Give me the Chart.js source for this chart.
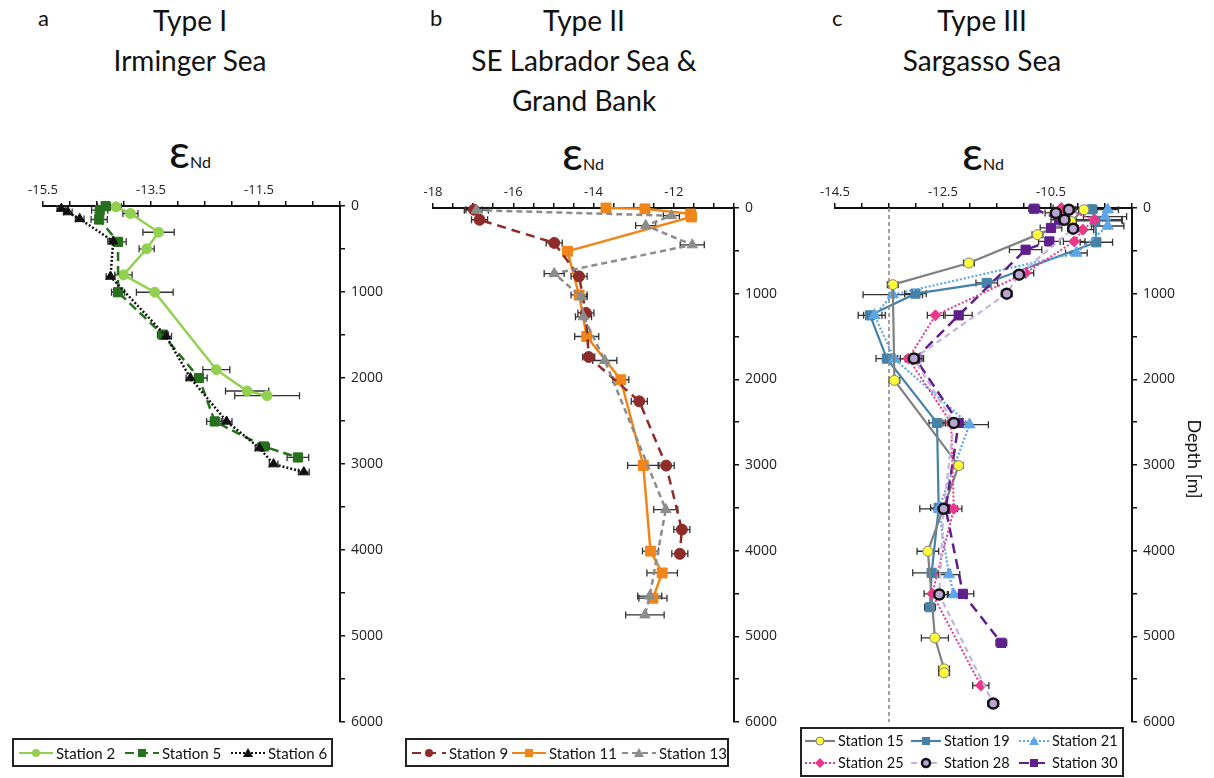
<!DOCTYPE html>
<html>
<head>
<meta charset="utf-8">
<script src="https://cdn.jsdelivr.net/npm/chart.js@4.4.1/dist/chart.umd.min.js"></script>
<style>
  body { margin: 0; background: #fff; font-family: 'Lato', 'Open Sans', sans-serif; color: #111; }
  #page { position: relative; width: 1214px; height: 778px; overflow: hidden; }
  .cv { position: absolute; }
  .txt { position: absolute; white-space: nowrap; }
  .letter { font-size: 22px; }
  .title { font-size: 28px; text-align: center; width: 300px; line-height: 40px; }
  .eps { font-size: 46px; width: 120px; text-align: center; line-height: 46px; }
  .eps sub { font-size: 16px; vertical-align: baseline; position: relative; top: 0; }
  .legend { position: absolute; border: 2px solid #222; box-sizing: border-box; font-size: 15px; font-family: 'Lato', sans-serif; }
  .legend .item { position: absolute; display: flex; align-items: center; white-space: nowrap; }
  .legend svg { margin-right: 2px; }
  #legC { font-size: 14.5px; }
  #depthLbl { position: absolute; left: 1150px; top: 448px; width: 90px; text-align: center; font-size: 18px; transform: rotate(90deg); }
</style>
</head>
<body>
<div id="page">
  <div class="txt letter" style="left:38px;top:4px;">a</div>
  <div class="txt title" style="left:40px;top:0px;">Type I<br>Irminger Sea</div>
  <div class="txt eps" style="left:130px;top:128px;">ε<sub>Nd</sub></div>

  <div class="txt letter" style="left:430px;top:4px;">b</div>
  <div class="txt title" style="left:434px;top:0px;">Type II<br>SE Labrador Sea &amp;<br>Grand Bank</div>
  <div class="txt eps" style="left:523px;top:130px;">ε<sub>Nd</sub></div>

  <div class="txt letter" style="left:832px;top:4px;">c</div>
  <div class="txt title" style="left:832px;top:0px;">Type III<br>Sargasso Sea</div>
  <div class="txt eps" style="left:923px;top:130px;">ε<sub>Nd</sub></div>

  <canvas id="chartA" class="cv" style="left:0px;top:160px;" width="400" height="580"></canvas>
  <canvas id="chartB" class="cv" style="left:390px;top:160px;" width="400" height="580"></canvas>
  <canvas id="chartC" class="cv" style="left:790px;top:160px;" width="424" height="580"></canvas>

  <div id="depthLbl">Depth [m]</div>

  <div class="legend" id="legA" style="left:12px;top:738px;width:321px;height:29px;"></div>
  <div class="legend" id="legB" style="left:405px;top:738px;width:324px;height:29px;"></div>
  <div class="legend" id="legC" style="left:800px;top:727px;width:324px;height:50px;"></div>
</div>

<script>
// ---- data ----
// Panel a: Irminger Sea
const st2Eps   = [-14.15, -13.88, -13.36, -13.58, -14.01, -13.43, -12.29, -11.72, -11.35];
const st2Depth = [10, 87, 305, 498, 801, 1003, 1903, 2151, 2206];
const st2Err   = [0.1, 0.14, 0.29, 0.14, 0.16, 0.34, 0.25, 0.4, 0.6];

const st5Eps   = [-14.34, -14.45, -14.46, -14.11, -14.11, -13.28, -12.61, -12.32, -11.41, -10.78];
const st5Depth = [2, 49, 157, 417, 1003, 1496, 2000, 2505, 2796, 2924];
const st5Err   = [0.15, 0.15, 0.15, 0.15, 0.12, 0.1, 0.15, 0.15, 0.1, 0.2];

const st6Eps   = [-15.16, -15.04, -14.82, -14.2, -14.25, -13.22, -12.77, -12.1, -11.49, -11.23, -10.67];
const st6Depth = [30, 70, 150, 410, 820, 1515, 2000, 2505, 2815, 3001, 3094];
const st6Err   = [0.08, 0.08, 0.08, 0.1, 0.08, 0.1, 0.08, 0.1, 0.08, 0.08, 0.1];

// Panel b: SE Labrador Sea & Grand Bank
const st9Eps   = [-16.98, -16.84, -14.98, -14.36, -14.19, -14.12, -12.86, -12.19, -11.8, -11.85];
const st9Depth = [20, 137, 408, 798, 1225, 1739, 2257, 3007, 3754, 4037];
const st9Err   = [0.2, 0.2, 0.2, 0.2, 0.2, 0.15, 0.2, 0.2, 0.2, 0.2];

const st11Eps   = [-13.69, -12.72, -11.58, -11.56, -14.65, -14.36, -14.17, -13.32, -12.76, -12.58, -12.29, -12.52];
const st11Depth = [0, 10, 70, 105, 505, 1015, 1500, 2005, 3005, 4005, 4260, 4555];
const st11Err   = [0.1, 0.1, 0.1, 0.1, 0.1, 0.2, 0.3, 0.2, 0.39, 0.2, 0.38, 0.35];

const st13Eps   = [-16.92, -12.06, -12.7, -11.54, -14.98, -14.31, -14.25, -13.72, -12.2, -12.6, -12.72];
const st13Depth = [25, 90, 205, 430, 765, 1035, 1270, 1780, 3520, 4530, 4750];
const st13Err   = [0.3, 0.2, 0.25, 0.3, 0.25, 0.15, 0.2, 0.3, 0.3, 0.3, 0.48];

// Panel c: Sargasso Sea
const st15Eps   = [-9.89, -10.13, -10.75, -12.02, -13.43, -13.4, -12.21, -12.78, -12.65, -12.48, -12.48];
const st15Depth = [20, 156, 311, 642, 895, 2012, 3007, 4007, 5018, 5380, 5426];
const st15Err   = [0.1, 0.1, 0.1, 0.1, 0.1, 0.1, 0.08, 0.2, 0.25, 0.1, 0.1];

const st19Eps   = [-9.74, -9.68, -9.66, -11.69, -13.01, -13.85, -13.54, -12.61, -12.58, -12.71, -12.74];
const st19Depth = [15, 150, 400, 875, 1000, 1253, 1758, 2509, 3500, 4259, 4660];
const st19Err   = [0.3, 0.5, 0.3, 0.2, 0.2, 0.22, 0.2, 0.15, 0.15, 0.35, 0.1];

const st21Eps   = [-9.45, -9.5, -9.45, -10.03, -13.43, -13.77, -13.4, -12.01, -12.58, -12.39, -12.3];
const st21Depth = [20, 100, 210, 525, 1012, 1253, 1762, 2529, 3512, 4279, 4512];
const st21Err   = [0.2, 0.4, 0.3, 0.2, 0.55, 0.2, 0.2, 0.35, 0.35, 0.2, 0.1];

const st25Eps   = [-10.31, -9.69, -9.91, -10.07, -10.97, -12.64, -13.14, -12.35, -12.3, -12.7, -11.8];
const st25Depth = [0, 137, 253, 390, 759, 1253, 1758, 2509, 3512, 4504, 5574];
const st25Err   = [0.15, 0.5, 0.2, 0.2, 0.15, 0.15, 0.15, 0.15, 0.15, 0.15, 0.15];

const st28Eps   = [-10.17, -10.41, -10.25, -10.09, -11.09, -11.32, -13.04, -12.3, -12.49, -12.57, -11.57];
const st28Depth = [20, 58, 137, 241, 778, 1000, 1758, 2509, 3512, 4512, 5784];
const st28Err   = [0.1, 0.2, 0.1, 0.1, 0.1, 0.1, 0.15, 0.15, 0.1, 0.15, 0.1];

const st30Eps   = [-10.81, -10.35, -10.5, -10.53, -10.97, -12.21, -13.01, -12.21, -12.45, -12.13, -11.42];
const st30Depth = [8, 137, 233, 390, 487, 1253, 1758, 2509, 3512, 4504, 5076];
const st30Err   = [0.1, 0.15, 0.2, 0.2, 0.3, 0.25, 0.15, 0.2, 0.15, 0.2, 0.1];

const refEps = -13.5;          // dashed reference line in panel c
const refDepth = [0, 6000];

const xRangeA = [-15.5, -10];
const xRangeB = [-18, -10.5];
const xRangeC = [-14.5, -9];
const depthRange = [0, 6000];

// ---- helpers ----
const pts = (eps, depth) => eps.map((v, i) => ({ x: v, y: depth[i] }));

function station(label, eps, depth, err, s) {
  return {
    label,
    data: pts(eps, depth),
    errX: err,
    showLine: true,
    borderColor: s.line,
    borderWidth: s.width || 2.5,
    borderDash: s.dash || [],
    pointStyle: s.marker,
    pointRadius: s.r || 5,
    pointBackgroundColor: s.fill,
    pointBorderColor: s.edge || s.fill,
    pointBorderWidth: s.edgeW || 1,
    clip: false,
    tension: 0
  };
}

const errorBars = {
  id: 'errorBars',
  beforeDatasetsDraw(chart) {
    const { ctx, scales: { x, y } } = chart;
    ctx.save();
    ctx.strokeStyle = '#333';
    ctx.lineWidth = 1.3;
    chart.data.datasets.forEach((ds, i) => {
      if (!ds.errX || !chart.isDatasetVisible(i)) return;
      ds.data.forEach((p, j) => {
        const e = ds.errX[j];
        if (!e) return;
        const yp = y.getPixelForValue(p.y);
        const x0 = x.getPixelForValue(p.x - e);
        const x1 = x.getPixelForValue(p.x + e);
        ctx.beginPath();
        ctx.moveTo(x0, yp); ctx.lineTo(x1, yp);
        ctx.moveTo(x0, yp - 3.5); ctx.lineTo(x0, yp + 3.5);
        ctx.moveTo(x1, yp - 3.5); ctx.lineTo(x1, yp + 3.5);
        ctx.stroke();
      });
    });
    ctx.restore();
  }
};

function makeChart(id, xr, datasets, pad, yWidth) {
  const near = (a, b) => Math.abs(a - b) < 1e-6;
  return new Chart(document.getElementById(id), {
    type: 'scatter',
    data: { datasets },
    plugins: [errorBars],
    options: {
      responsive: false,
      animation: false,
      layout: { padding: pad },
      plugins: { legend: { display: false }, tooltip: { enabled: false } },
      scales: {
        x: {
          type: 'linear', position: 'top', min: xr[0], max: xr[1],
          afterFit: s => { s.height = 30; },
          grid: { drawOnChartArea: false, drawTicks: true, tickLength: 5, color: '#111', lineWidth: 1.5 },
          border: { display: true, color: '#111', width: 2 },
          ticks: {
            stepSize: 0.5, autoSkip: false, maxRotation: 0, padding: 3,
            color: '#222', font: { family: 'Open Sans', size: 13 },
            callback: v => {
              const k = (v - xr[0]) / 2;
              return near(k, Math.round(k)) && !near(v, xr[1]) ? String(v) : '';
            }
          }
        },
        y: {
          type: 'linear', position: 'right', reverse: true, min: depthRange[0], max: depthRange[1],
          afterFit: s => { s.width = yWidth; },
          grid: { drawOnChartArea: false, drawTicks: true, tickLength: 5, color: '#111', lineWidth: 1.5 },
          border: { display: true, color: '#111', width: 2 },
          ticks: {
            stepSize: 500, autoSkip: false, padding: 6,
            color: '#222', font: { family: 'Open Sans', size: 14 },
            callback: v => (v % 1000 === 0 ? String(v) : '')
          }
        }
      }
    }
  });
}

// ---- styles ----
const S = {
  st2:  { line: '#92D050', fill: '#92D050', marker: 'circle', r: 5 },
  st5:  { line: '#27701d', fill: '#27701d', marker: 'rect', r: 6.5, dash: [9, 5] },
  st6:  { line: '#111', fill: '#111', marker: 'triangle', r: 5.5, dash: [2, 2], width: 2.5 },
  st9:  { line: '#8E2B2B', fill: '#8E2B2B', marker: 'circle', r: 5.5, dash: [9, 6] },
  st11: { line: '#F0861A', fill: '#F0861A', marker: 'rect', r: 7 },
  st13: { line: '#8C8C8C', fill: '#8C8C8C', marker: 'triangle', r: 6, dash: [6, 4] },
  st15: { line: '#808080', fill: '#FFFF3A', edge: '#808080', edgeW: 1, marker: 'circle', r: 5, width: 2.2 },
  st19: { line: '#4682A8', fill: '#4682A8', marker: 'rect', r: 6.5, width: 2.2 },
  st21: { line: '#5EA6EA', fill: '#5EA6EA', marker: 'triangle', r: 6.5, dash: [2, 2], width: 2.2 },
  st25: { line: '#E8388A', fill: '#E8388A', marker: 'rectRot', r: 5.5, dash: [2, 2], width: 2 },
  st28: { line: '#C4B3DC', fill: '#B9A6D2', edge: '#111', edgeW: 2.5, marker: 'circle', r: 5, dash: [6, 4], width: 2.2 },
  st30: { line: '#5F1F8C', fill: '#5F1F8C', marker: 'rect', r: 6.5, dash: [10, 6], width: 2.5 }
};

makeChart('chartA', xRangeA, [
  station('Station 6', st6Eps, st6Depth, st6Err, S.st6),
  station('Station 5', st5Eps, st5Depth, st5Err, S.st5),
  station('Station 2', st2Eps, st2Depth, st2Err, S.st2)
], { left: 43, right: 0, top: 16, bottom: 18 }, 60);

makeChart('chartB', xRangeB, [
  station('Station 13', st13Eps, st13Depth, st13Err, S.st13),
  station('Station 9', st9Eps, st9Depth, st9Err, S.st9),
  station('Station 11', st11Eps, st11Depth, st11Err, S.st11)
], { left: 43, right: 0, top: 18, bottom: 18 }, 56);

const refLine = {
  label: 'ref', data: refDepth.map(d => ({ x: refEps, y: d })), showLine: true,
  borderColor: '#8a8a8a', borderWidth: 1.6, borderDash: [4, 3], pointRadius: 0
};
makeChart('chartC', xRangeC, [
  refLine,
  station('Station 28', st28Eps, st28Depth, st28Err, S.st28),
  station('Station 25', st25Eps, st25Depth, st25Err, S.st25),
  station('Station 30', st30Eps, st30Depth, st30Err, S.st30),
  station('Station 15', st15Eps, st15Depth, st15Err, S.st15),
  station('Station 21', st21Eps, st21Depth, st21Err, S.st21),
  station('Station 19', st19Eps, st19Depth, st19Err, S.st19)
], { left: 45, right: 22, top: 18, bottom: 18 }, 60);

// ---- legends ----
function markerSvg(s, cx, cy) {
  const f = s.fill, e = s.edge || s.fill, w = s.edge ? s.edgeW : 0;
  if (s.marker === 'circle') return `<circle cx="${cx}" cy="${cy}" r="4" fill="${f}" stroke="${e}" stroke-width="${w}"/>`;
  if (s.marker === 'rect') return `<rect x="${cx - 4}" y="${cy - 4}" width="8" height="8" fill="${f}"/>`;
  if (s.marker === 'triangle') return `<polygon points="${cx},${cy - 5} ${cx + 5},${cy + 4} ${cx - 5},${cy + 4}" fill="${f}"/>`;
  return `<polygon points="${cx},${cy - 5} ${cx + 5},${cy} ${cx},${cy + 5} ${cx - 5},${cy}" fill="${f}"/>`;
}
function legendItem(label, s, left, top, w) {
  const sw = w || 36;
  const dash = (s.dash || []).join(',');
  return `<div class="item" style="left:${left}px;top:${top}px;">
    <svg width="${sw}" height="14"><line x1="1" y1="7" x2="${sw - 1}" y2="7" stroke="${s.line}" stroke-width="2.2" stroke-dasharray="${dash}"/>${markerSvg(s, sw / 2, 7)}</svg>
    <span>${label}</span></div>`;
}
document.getElementById('legA').innerHTML =
  legendItem('Station 2', S.st2, 4, 4) + legendItem('Station 5', S.st5, 110, 4) + legendItem('Station 6', S.st6, 216, 4);
document.getElementById('legB').innerHTML =
  legendItem('Station 9', S.st9, 4, 4) + legendItem('Station 11', S.st11, 104, 4) + legendItem('Station 13', S.st13, 214, 4);
document.getElementById('legC').innerHTML =
  legendItem('Station 15', S.st15, 2, 3, 32) + legendItem('Station 19', S.st19, 108, 3, 32) + legendItem('Station 21', S.st21, 216, 3, 32) +
  legendItem('Station 25', S.st25, 2, 25, 32) + legendItem('Station 28', S.st28, 108, 25, 32) + legendItem('Station 30', S.st30, 216, 25, 32);
</script>
</body>
</html>
